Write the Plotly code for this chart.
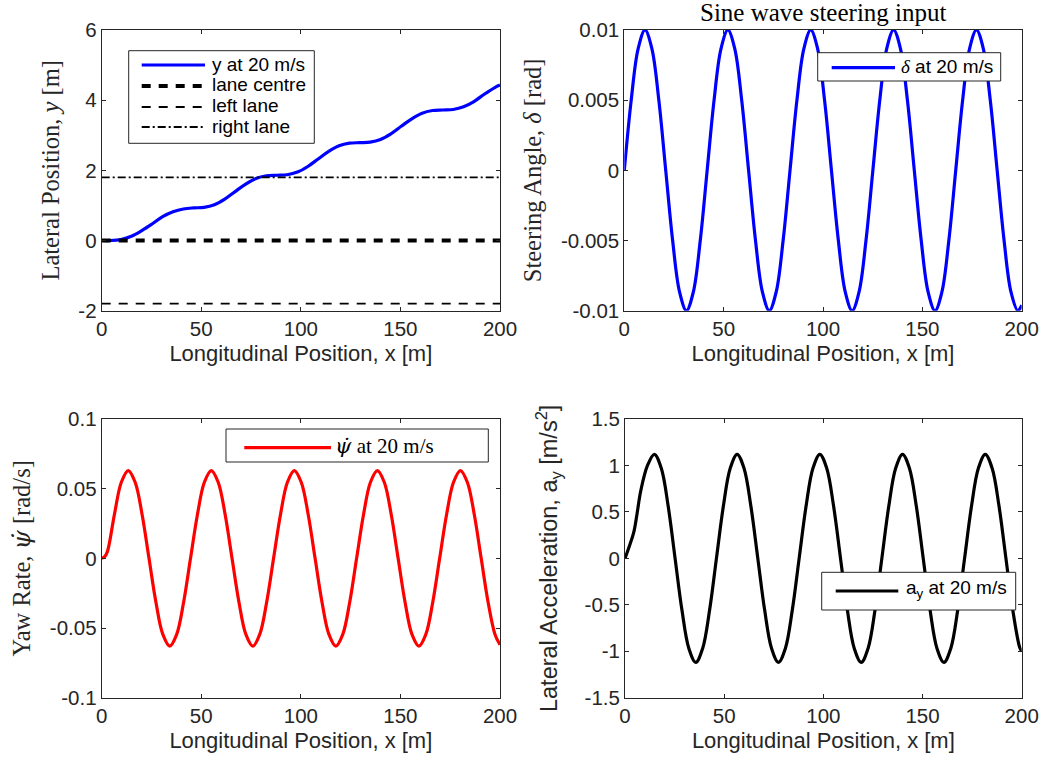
import plotly.graph_objects as go

W, H = 1044, 759

# ---------------- data ----------------
x_ticks = [0, 50, 100, 150, 200]
x_tick_labels = ["0", "50", "100", "150", "200"]

# Lateral position y [m]
x_lat = [0, 4.5, 9.7, 14.9, 20.1, 25.3, 30.6, 35.8, 41.0, 46.2,
         51.4, 56.6, 61.8, 67.0, 72.3, 77.5, 82.7, 87.9,
         93.1, 98.3, 103.5, 108.7, 114.0, 119.2, 124.4, 129.6,
         134.8, 140.0, 145.2, 150.4, 155.7, 160.9, 166.1, 171.3,
         176.5, 181.7, 186.9, 192.1, 197.4, 200.0]
y_lat = [0.0, 0.0, 0.03, 0.12, 0.28, 0.47, 0.68, 0.82, 0.90, 0.93,
         0.945, 1.02, 1.18, 1.395, 1.61, 1.77, 1.845, 1.86,
         1.875, 1.95, 2.11, 2.325, 2.54, 2.70, 2.775, 2.79,
         2.805, 2.88, 3.04, 3.255, 3.47, 3.63, 3.705, 3.72,
         3.735, 3.81, 3.96, 4.17, 4.36, 4.43]
lane_x = [0, 200]
lane_centre_y = [0.0, 0.0]
left_lane_y = [-1.8, -1.8]
right_lane_y = [1.8, 1.8]
lat_y_ticks = [-2, 0, 2, 4, 6]
lat_y_labels = ["-2", "0", "2", "4", "6"]

# Steering angle delta [rad]
x_delta = [0, 3.48, 6.95, 10.43, 13.90, 17.38, 20.85, 24.33, 27.80, 31.28, 34.75, 38.23,
           41.70, 45.18, 48.65, 52.13, 55.60, 59.08, 62.55, 66.03, 69.50, 72.98, 76.45, 79.93,
           83.40, 86.88, 90.35, 93.83, 97.30, 100.78, 104.25, 107.73, 111.20, 114.68, 118.15, 121.63,
           125.10, 128.58, 132.05, 135.53, 139.00, 142.48, 145.95, 149.43, 152.90, 156.38, 159.85, 163.33,
           166.80, 170.28, 173.75, 177.23, 180.70, 184.18, 187.65, 191.13, 194.60, 198.08, 200.0]
delta = [0, 0.005, 0.00866, 0.01, 0.00866, 0.005, 0, -0.005, -0.00866, -0.01, -0.00866, -0.005,
         0, 0.005, 0.00866, 0.01, 0.00866, 0.005, 0, -0.005, -0.00866, -0.01, -0.00866, -0.005,
         0, 0.005, 0.00866, 0.01, 0.00866, 0.005, 0, -0.005, -0.00866, -0.01, -0.00866, -0.005,
         0, 0.005, 0.00866, 0.01, 0.00866, 0.005, 0, -0.005, -0.00866, -0.01, -0.00866, -0.005,
         0, 0.005, 0.00866, 0.01, 0.00866, 0.005, 0, -0.005, -0.00866, -0.01, -0.0096]
delta_ticks = [-0.01, -0.005, 0, 0.005, 0.01]
delta_labels = ["-0.01", "-0.005", "0", "0.005", "0.01"]

# Yaw rate [rad/s]
x_yaw = [0, 1.5, 2.90, 6.38, 9.85, 13.33, 16.80, 20.28, 23.75, 27.23, 30.70, 34.18, 37.65, 41.13,
         44.60, 48.08, 51.55, 55.03, 58.50, 61.98, 65.45, 68.93, 72.40, 75.88, 79.35, 82.83,
         86.30, 89.78, 93.25, 96.73, 100.20, 103.68, 107.15, 110.63, 114.10, 117.58, 121.05, 124.53,
         128.00, 131.48, 134.95, 138.43, 141.90, 145.38, 148.85, 152.33, 155.80, 159.28, 162.75, 166.23,
         169.70, 173.18, 176.65, 180.13, 183.60, 187.08, 190.55, 194.03, 197.50, 200.0]
yaw = [0, 0.0012, 0.005, 0.0315, 0.0546, 0.063, 0.0546, 0.0315, 0, -0.0315, -0.0546, -0.063, -0.0546, -0.0315,
       0, 0.0315, 0.0546, 0.063, 0.0546, 0.0315, 0, -0.0315, -0.0546, -0.063, -0.0546, -0.0315,
       0, 0.0315, 0.0546, 0.063, 0.0546, 0.0315, 0, -0.0315, -0.0546, -0.063, -0.0546, -0.0315,
       0, 0.0315, 0.0546, 0.063, 0.0546, 0.0315, 0, -0.0315, -0.0546, -0.063, -0.0546, -0.0315,
       0, 0.0315, 0.0546, 0.063, 0.0546, 0.0315, 0, -0.0315, -0.0546, -0.062]
yaw_ticks = [-0.1, -0.05, 0, 0.05, 0.1]
yaw_labels = ["-0.1", "-0.05", "0", "0.05", "0.1"]

# Lateral acceleration [m/s^2]
x_ay = [0, 2.0, 4.40, 6.0, 7.88, 11.35, 14.83, 18.30, 21.78, 25.25, 28.73, 32.20, 35.68, 39.15, 42.63,
        46.10, 49.58, 53.05, 56.53, 60.00, 63.48, 66.95, 70.43, 73.90, 77.38, 80.85, 84.33,
        87.80, 91.28, 94.75, 98.23, 101.70, 105.18, 108.65, 112.13, 115.60, 119.08, 122.55, 126.03,
        129.50, 132.98, 136.45, 139.93, 143.40, 146.88, 150.35, 153.83, 157.30, 160.78, 164.25, 167.73,
        171.20, 174.68, 178.15, 181.63, 185.10, 188.58, 192.05, 195.53, 199.00, 200.0]
ay = [0, 0.12, 0.28, 0.47, 0.72, 1.0, 1.12, 0.97, 0.56, 0, -0.56, -0.97, -1.12, -0.97, -0.56,
      0, 0.56, 0.97, 1.12, 0.97, 0.56, 0, -0.56, -0.97, -1.12, -0.97, -0.56,
      0, 0.56, 0.97, 1.12, 0.97, 0.56, 0, -0.56, -0.97, -1.12, -0.97, -0.56,
      0, 0.56, 0.97, 1.12, 0.97, 0.56, 0, -0.56, -0.97, -1.12, -0.97, -0.56,
      0, 0.56, 0.97, 1.12, 0.97, 0.56, 0, -0.56, -0.96, -1.0]
ay_ticks = [-1.5, -1, -0.5, 0, 0.5, 1, 1.5]
ay_labels = ["-1.5", "-1", "-0.5", "0", "0.5", "1", "1.5"]

# ---------------- styling ----------------
SANS = "Liberation Sans, Arial, Helvetica, sans-serif"
SERIF = "Liberation Serif, Times New Roman, serif"
PSI = "<span style='font-family:DejaVu Serif'><i>ψ̇</i></span>"
AX = "#262626"

name_lat = "y at 20 m/s"
name_centre = "lane centre"
name_left = "left lane"
name_right = "right lane"
name_delta = "<span style='font-family:Liberation Serif'><i>δ</i></span> at 20 m/s"
name_yaw = PSI + " at 20 m/s"
name_ay = "a<sub>y</sub> at 20 m/s"

st_lat = dict(color="#0000ff", width=3.2, shape="spline", smoothing=1.0)
st_centre = dict(color="black", width=4, dash="9px,8px")
st_left = dict(color="black", width=1.8, dash="9px,8px")
st_right = dict(color="black", width=1.8, dash="8px,3px,2px,3px")
st_delta = dict(color="#0000ff", width=3.2, shape="spline", smoothing=1.0)
st_yaw = dict(color="#ff0000", width=3.2, shape="spline", smoothing=1.0)
st_ay = dict(color="black", width=3.2, shape="spline", smoothing=1.0)

fig = go.Figure()
fig.add_trace(go.Scatter(x=x_lat, y=y_lat, mode="lines", name=name_lat, line=st_lat,
                         xaxis="x", yaxis="y", showlegend=False))
fig.add_trace(go.Scatter(x=lane_x, y=lane_centre_y, mode="lines", name=name_centre, line=st_centre,
                         xaxis="x", yaxis="y", showlegend=False))
fig.add_trace(go.Scatter(x=lane_x, y=left_lane_y, mode="lines", name=name_left, line=st_left,
                         xaxis="x", yaxis="y", showlegend=False))
fig.add_trace(go.Scatter(x=lane_x, y=right_lane_y, mode="lines", name=name_right, line=st_right,
                         xaxis="x", yaxis="y", showlegend=False))
fig.add_trace(go.Scatter(x=x_delta, y=delta, mode="lines", name=name_delta, line=st_delta,
                         xaxis="x2", yaxis="y2", showlegend=False))
fig.add_trace(go.Scatter(x=x_yaw, y=yaw, mode="lines", name=name_yaw, line=st_yaw,
                         xaxis="x3", yaxis="y3", showlegend=False))
fig.add_trace(go.Scatter(x=x_ay, y=ay, mode="lines", name=name_ay, line=st_ay,
                         xaxis="x4", yaxis="y4", showlegend=False))


def dom_x(l, r):
    return [l / W, r / W]


def dom_y(top, bottom):
    return [1 - bottom / H, 1 - top / H]


def axis(domain, anchor, tickvals, ticktext, rng, title, title_font, standoff):
    return dict(domain=domain, anchor=anchor, range=rng, tickmode="array",
                tickvals=tickvals, ticktext=ticktext, automargin=False,
                showline=True, linecolor=AX, linewidth=1, mirror="ticks",
                ticks="inside", ticklen=4, tickwidth=1, tickcolor=AX,
                showgrid=False, zeroline=False,
                tickfont=dict(family=SANS, size=20.5, color=AX),
                title=dict(text=title, font=title_font, standoff=standoff))


xt_font = dict(family=SANS, size=22, color=AX)
serif_font = dict(family=SERIF, size=24.5, color=AX)

top_dom = dom_y(30, 310.7)
bot_dom = dom_y(419, 697.7)
left_dom = dom_x(101.7, 500)
right_dom_t = dom_x(624.3, 1021.7)
right_dom_b = dom_x(625, 1021.7)

xlabel = "Longitudinal Position, x [m]"

# ---- legends drawn as boxed keys (pixel geometry of the reference) ----
shapes = []
annotations = []


def P(xp, yp):
    return xp / W, 1 - yp / H


def legend_box(x0, y0, x1, y1):
    a, b = P(x0, y1)
    c, d = P(x1, y0)
    shapes.append(dict(type="rect", xref="paper", yref="paper", x0=a, y0=b, x1=c, y1=d,
                       line=dict(color=AX, width=1), fillcolor="white", layer="above"))


def legend_item(lx0, lx1, ly, tx, ty, text, style, font):
    a, b = P(lx0, ly)
    c, _ = P(lx1, ly)
    ln = dict(color=style["color"], width=style["width"])
    if "dash" in style:
        ln["dash"] = style["dash"]
    shapes.append(dict(type="line", xref="paper", yref="paper", x0=a, y0=b, x1=c, y1=b,
                       line=ln, layer="above"))
    tx_, ty_ = P(tx, ty)
    annotations.append(dict(text=text, x=tx_, y=ty_, xref="paper", yref="paper",
                            xanchor="left", yanchor="middle", showarrow=False,
                            borderpad=0, font=font))


leg_font = dict(family=SANS, size=19, color="black")
legend_box(128.7, 50.7, 314.3, 143.3)
legend_item(141.7, 205, 65, 211, 64, name_lat, st_lat, leg_font)
legend_item(141.7, 205, 86, 211, 85, name_centre, st_centre, leg_font)
legend_item(141.7, 205, 107, 211, 106, name_left, st_left, leg_font)
legend_item(141.7, 205, 127, 211, 126, name_right, st_right, leg_font)

legend_box(817.7, 52.7, 1000.7, 81)
legend_item(831.7, 895, 67.7, 900, 66.5, name_delta, st_delta, leg_font)

legend_box(226, 429, 488.3, 462)
legend_item(244.3, 331, 447.7, 334, 446, name_yaw, st_yaw,
            dict(family=SERIF, size=21, color="black"))

legend_box(821.7, 572.3, 1015.7, 610)
legend_item(835.7, 898.3, 591, 904.5, 589, name_ay, st_ay, leg_font)

tx, ty = P(823, 12)
annotations.append(dict(text="Sine wave steering input", x=tx, y=ty, xref="paper", yref="paper",
                        xanchor="center", yanchor="middle", showarrow=False,
                        font=dict(family=SERIF, size=25, color="black")))

fig.update_layout(
    width=W, height=H,
    margin=dict(l=0, r=0, t=0, b=0, autoexpand=False),
    paper_bgcolor="white", plot_bgcolor="white",
    showlegend=False,
    xaxis=axis(left_dom, "y", x_ticks, x_tick_labels, [0, 200], xlabel, xt_font, 6),
    yaxis=axis(top_dom, "x", lat_y_ticks, lat_y_labels, [-2, 6],
               "Lateral Position, <i>y</i> [m]", serif_font, 11),
    xaxis2=axis(right_dom_t, "y2", x_ticks, x_tick_labels, [0, 200], xlabel, xt_font, 6),
    yaxis2=axis(top_dom, "x2", delta_ticks, delta_labels, [-0.01, 0.01],
                "Steering Angle, <i>δ</i> [rad]", serif_font, 12),
    xaxis3=axis(left_dom, "y3", x_ticks, x_tick_labels, [0, 200], xlabel, xt_font, 6),
    yaxis3=axis(bot_dom, "x3", yaw_ticks, yaw_labels, [-0.1, 0.1],
                "Yaw Rate, " + PSI + " [rad/s]", serif_font, 12),
    xaxis4=axis(right_dom_b, "y4", x_ticks, x_tick_labels, [0, 200], xlabel, xt_font, 6),
    yaxis4=axis(bot_dom, "x4", ay_ticks, ay_labels, [-1.5, 1.5],
                "Lateral Acceleration, a<sub>y</sub> [m/s<sup>2</sup>]",
                dict(family=SANS, size=23.5, color=AX), 20),
    shapes=shapes,
    annotations=annotations,
)

fig.write_html("out.html")
